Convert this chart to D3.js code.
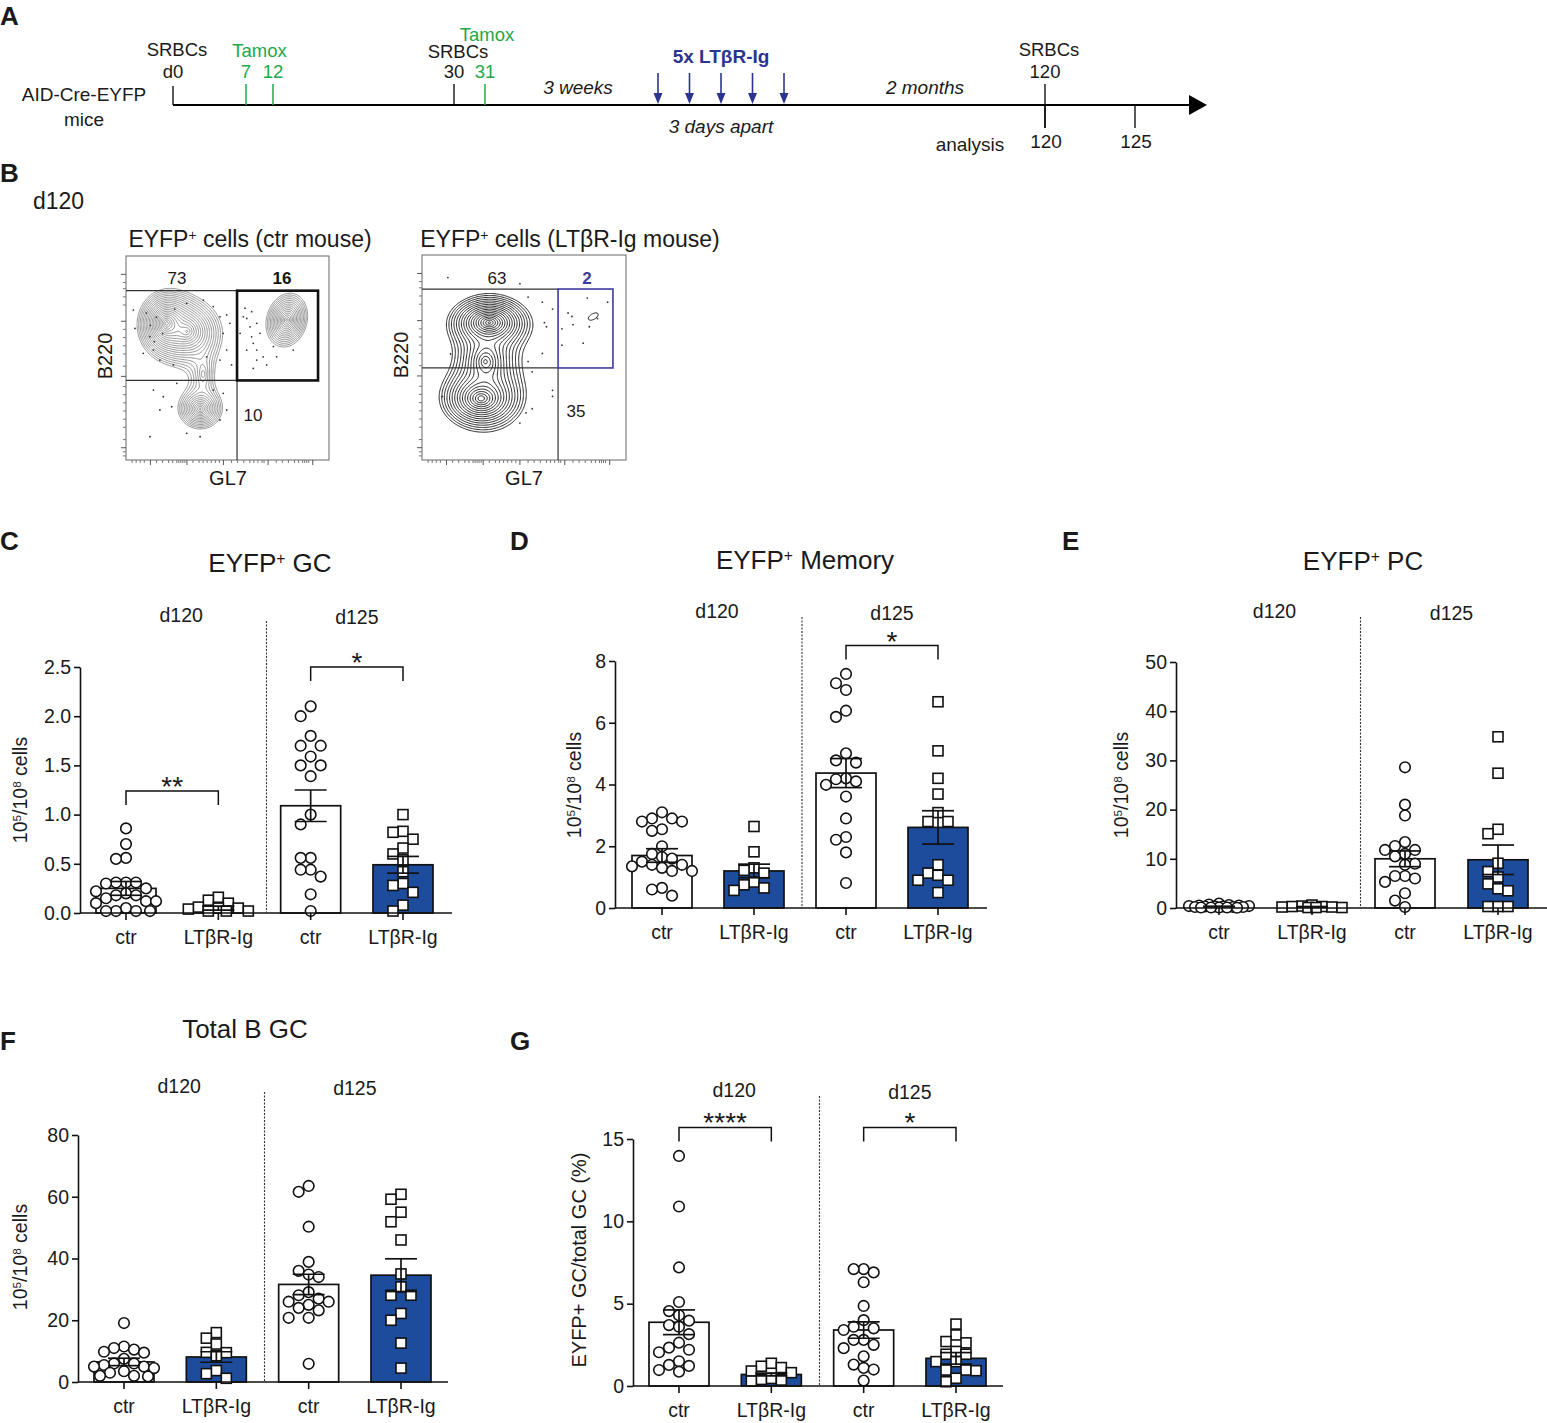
<!DOCTYPE html>
<html><head><meta charset="utf-8">
<script src="https://cdn.jsdelivr.net/npm/d3@7"></script>
<style>
body{margin:0;background:#fff}
svg{display:block}
text{font-family:"Liberation Sans",Arial,Helvetica,sans-serif;fill:#1a1a1a}
</style>
</head><body>
<svg id="fig" width="1547" height="1423"></svg>
<script>
// ---------------- DATA ----------------
const categories = ["ctr", "LTβR-Ig", "ctr", "LTβR-Ig"];
const groupLabels = ["d120", "d125"];

// Panel A timeline (days)
const srbcDays = [0, 30, 120];
const srbcDayLabels = ["d0", "30", "120"];
const tamoxDays = [7, 12, 31];
const ltbrDays = [52, 55, 58, 61, 64];
const analysisDays = [120, 125];

// Panel C: EYFP+ GC (10^5/10^8 cells)
const gcCtr120 = [0.86,0.70,0.56,0.55,0.31,0.31,0.31,0.30,0.25,0.22,0.20,0.18,0.18,0.15,0.12,0.12,0.10,0.05,0.02,0.02,0.02,0.02];
const gcLtb120 = [0.16,0.13,0.10,0.06,0.05,0.05,0.04,0.02,0.02,0.02];
const gcCtr125 = [2.10,2.00,1.80,1.70,1.70,1.59,1.50,1.50,1.39,1.00,0.90,0.56,0.56,0.44,0.44,0.37,0.19,0.02];
const gcLtb125 = [1.00,0.83,0.82,0.75,0.66,0.60,0.54,0.42,0.30,0.28,0.21,0.08,0.02];
const gcMean = [0.25, 0.05, 1.09, 0.49];
const gcSem  = [0.07, 0.02, 0.16, 0.085];

// Panel D: EYFP+ Memory
const memCtr120 = [3.1,2.9,2.9,2.8,2.8,2.55,2.5,2.0,1.75,1.65,1.6,1.5,1.4,1.4,1.35,1.3,1.2,1.2,0.65,0.6,0.4];
const memLtb120 = [2.64,1.82,1.30,1.22,1.13,0.84,0.75,0.65,0.57];
const memCtr125 = [7.58,7.28,7.06,6.39,6.19,5.01,4.78,4.71,4.2,4.17,4.1,3.99,3.61,2.9,2.3,2.21,1.8,0.81];
const memLtb125 = [6.68,5.09,4.2,3.69,3.09,2.8,2.8,1.40,1.13,1.06,0.9,0.9,0.5];
const memMean = [1.70, 1.20, 4.37, 2.61];
const memSem  = [0.22, 0.22, 0.47, 0.54];

// Panel E: EYFP+ PC
const pcCtr120 = [0.9,0.7,0.6,0.5,0.5,0.4,0.4,0.3,0.3,0.3,0.2,0.2,0.2,0.1,0.1,0.1,0.1,0.05];
const pcLtb120 = [0.6,0.4,0.3,0.3,0.2,0.2,0.1,0.1,0.1];
const pcCtr125 = [28.6,21.0,18.8,13.4,12.6,11.8,11.8,11.0,10.5,9.0,8.8,6.5,6.5,6.0,5.3,3.0,1.5,0.2];
const pcLtb125 = [34.8,27.4,16.0,15.1,9.1,7.4,6.3,4.9,3.9,3.5,0.3,0.3,0.3];
const pcMean = [0.3, 0.25, 10.0, 9.8];
const pcSem  = [0.06, 0.05, 1.6, 3.0];

// Panel F: Total B GC
const totCtr120 = [19.1,11.5,11.0,10.5,9.8,9.5,7.5,6.0,6.0,5.5,5.0,5.0,4.5,3.5,3.0,2.0,2.0,1.8];
const totLtb120 = [16.0,14.2,12.3,9.6,9.5,8.5,3.7,2.7,1.2];
const totCtr125 = [63.5,61.6,50.3,38.9,36.0,34.8,34.0,29.1,28.1,27.0,26.0,26.0,25.0,24.0,23.2,20.8,20.8,5.9];
const totLtb125 = [60.8,59.2,55.0,51.9,46.0,35.0,30.8,28.1,28.1,22.2,20.0,12.6,4.5];
const totMean = [6.5, 8.1, 31.6, 34.6];
const totSem  = [1.2, 1.7, 3.3, 5.3];

// Panel G: EYFP+ GC / total GC (%)
const pctCtr120 = [13.97,10.9,7.2,5.1,4.55,4.3,3.97,3.7,3.6,3.15,2.63,2.33,2.2,2.05,1.5,1.28,1.22,0.97,0.87];
const pctLtb120 = [1.38,1.2,1.12,0.91,0.81,0.46,0.4,0.36,0.3];
const pctCtr125 = [7.1,7.1,6.9,6.3,4.86,4.0,3.6,3.5,3.4,2.8,2.8,2.5,2.3,1.8,1.3,1.1,1.0,0.33];
const pctLtb125 = [3.76,3.1,2.7,2.62,2.1,1.93,1.93,1.48,1.48,0.97,0.97,0.93,0.47,0.26];
const pctMean = [3.87, 0.70, 3.4, 1.68];
const pctSem  = [0.75, 0.08, 0.5, 0.35];

// Significance (group pairs, label)
const gcSig  = [{a:0,b:1,v:1.24,label:"**"},{a:2,b:3,v:2.5,label:"*"}];
const memSig = [{a:2,b:3,v:8.5,label:"*"}];
const pctSig = [{a:0,b:1,v:15.7,label:"****"},{a:2,b:3,v:15.7,label:"*"}];

// Panel B flow: populations [cx, cy, sx, sy, weight, angle] in plot units (0-100)
const ctrPops = [
  [20, 67, 4.3, 5, 1.0, 0],
  [30, 63, 7, 6.5, 0.55, -10],
  [38, 42, 4, 8, 0.12, 0],
  [36.5, 25, 5, 4.5, 0.4, 0],
  [79.3, 68.6, 4.3, 5.8, 0.5, -15]
];
const ltbPops = [
  [33, 67, 5.5, 3.6, 1.0, 0],
  [29, 30, 6, 4.5, 0.75, 0],
  [31, 48, 5, 6, 0.3, 0],
  [33, 47, 9, 16, 0.08, 0],
  [84, 70, 14, 7, 0.036, 30]
];
const ctrDots = [[3.6,73.5],[4.4,64.5],[11.8,60.5],[13.5,53.9],[8.5,52.3],[16.7,49],[23.3,46.6],[29.9,76.8],[38.1,78.4],[43,75.2],[46.3,70.2],[49.6,71.1],[51.2,67],[47.9,62.1],[49.6,53.9],[52,46.6],[46.3,49],[39.7,50.6],[13.5,34.3],[18.4,31],[16.7,24.5],[22.5,26.1],[25,37.6],[43,34.3],[47.9,32.7],[49.6,24.5],[46.3,19.6],[36.5,11.4],[29.9,13.1],[11.8,11.4],[57.8,70.2],[59.5,69.4],[61.1,65.3],[61.9,60.4],[62.7,57.2],[64.4,53.9],[59.5,53.9],[56.2,62.1],[64.4,49],[67.6,50.6],[69.3,46.6],[62.7,44.9],[74.2,50.6],[82.4,53.9],[72.6,55.6],[66,62.1],[64.4,67],[58.6,74.4],[61.9,72.7],[15,70],[12,66],[18,62],[10,72],[24,74],[14,58]];
const ltbDots = [[81,79],[91,77],[71.6,71.7],[73.5,70],[74,66],[68.6,64],[82,65],[86,69],[68.6,56],[79,57],[12.7,89],[48,86],[52,79.5],[59,77],[64,73.6],[60,67],[61,65],[59,52],[14,51.7],[52,48],[54,43],[64,34],[64,31],[54,25],[51,23],[48,18],[10,31]];
const ctrPercents = ["73", "16", "10"];
const ltbPercents = ["63", "2", "35"];

// ---------------- DRAWING ----------------
const svg = d3.select("#fig");
const BLUE = "#1d4c9c";
const NAVY = "#2b3590";
const GREEN = "#22a84a";

function t(g, x, y, s, o = {}) {
  const el = g.append("text").attr("x", x).attr("y", y).text(s)
    .attr("font-size", o.size || 19)
    .attr("text-anchor", o.anchor || "middle");
  if (o.weight) el.attr("font-weight", o.weight);
  if (o.style) el.attr("font-style", o.style);
  if (o.fill) el.style("fill", o.fill);
  if (o.rotate) el.attr("transform", `rotate(${o.rotate},${x},${y})`);
  return el;
}
function rich(g, x, y, parts, o = {}) {
  const el = g.append("text").attr("x", x).attr("y", y)
    .attr("font-size", o.size || 19).attr("text-anchor", o.anchor || "middle");
  if (o.rotate) el.attr("transform", `rotate(${o.rotate},${x},${y})`);
  parts.forEach(p => {
    const ts = el.append("tspan").text(p[0]);
    if (p[1]) ts.attr("baseline-shift", "super").attr("font-size", (o.size || 19) * 0.6);
  });
  return el;
}

// Panel letters
[["A",0,25],["B",0,182],["C",0,550],["D",510,550],["E",1062,550],["F",0,1050],["G",510,1050]]
  .forEach(d => t(svg, d[1], d[2], d[0], {size: 26, weight: "bold", anchor: "start"}));

// ---------- Panel A ----------
(function () {
  const g = svg.append("g");
  const day = d3.scaleLinear().domain([0,7,12,30,31,52,64,120,125])
    .range([173,246,273,454,485,658,784,1045,1135]);
  const yL = 105;
  g.append("line").attr("x1", day(0)).attr("x2", 1192).attr("y1", yL).attr("y2", yL)
    .attr("stroke", "#000").attr("stroke-width", 2);
  g.append("path").attr("d", `M1189,95 L1207,${yL} L1189,115 Z`).attr("fill", "#000");
  t(g, 84, 101, "AID-Cre-EYFP");
  t(g, 84, 126, "mice");
  srbcDays.forEach((d, i) => {
    const x = day(d);
    const top = i === 0 ? 86 : 84;
    const bot = d === 120 ? 128 : yL;
    g.append("line").attr("x1", x).attr("x2", x).attr("y1", top).attr("y2", bot)
      .attr("stroke", "#000").attr("stroke-width", 1.3);
    t(g, x + 4, i === 1 ? 58 : 56, "SRBCs", {size: 18.5});
    t(g, x, 78, srbcDayLabels[i], {size: 18.5});
  });
  tamoxDays.forEach(d => {
    const x = day(d);
    g.append("line").attr("x1", x).attr("x2", x).attr("y1", 84).attr("y2", yL)
      .attr("stroke", GREEN).attr("stroke-width", 1.5);
    t(g, x, 78, String(d), {fill: GREEN, size: 18.5});
  });
  t(g, (day(7) + day(12)) / 2, 57, "Tamox", {fill: GREEN, size: 18.5});
  t(g, day(31) + 2, 41, "Tamox", {fill: GREEN, size: 18.5});
  t(g, 578, 94, "3 weeks", {style: "italic"});
  t(g, 925, 94, "2 months", {style: "italic"});
  const mid = (day(ltbrDays[0]) + day(ltbrDays[ltbrDays.length - 1])) / 2;
  t(g, mid, 63, "5x LTβR-Ig", {weight: "bold", fill: NAVY});
  t(g, mid, 133, "3 days apart", {style: "italic"});
  ltbrDays.forEach(d => {
    const x = day(d);
    g.append("line").attr("x1", x).attr("x2", x).attr("y1", 73).attr("y2", 96)
      .attr("stroke", NAVY).attr("stroke-width", 1.6);
    g.append("path").attr("d", `M${x-4.5},93 L${x},104 L${x+4.5},93 Z`).attr("fill", NAVY);
  });
  analysisDays.forEach(d => {
    const x = day(d);
    g.append("line").attr("x1", x).attr("x2", x).attr("y1", yL).attr("y2", 128)
      .attr("stroke", "#000").attr("stroke-width", 1.3);
    t(g, x + 1, 148, String(d));
  });
  t(g, 970, 151, "analysis");
})();

// ---------- Panel B ----------
t(svg, 33, 209, "d120", {size: 23, anchor: "start"});

function flowPlot(cfg) {
  const g = svg.append("g");
  const L = cfg.x, T = cfg.y, W = cfg.w, H = cfg.h;
  const sx = d3.scaleLinear().domain([0, 100]).range([L, L + W]);
  const sy = d3.scaleLinear().domain([0, 100]).range([T + H, T]);
  const nx = 180, ny = 180;
  const vals = new Float64Array(nx * ny);
  for (let j = 0; j < ny; j++) for (let i = 0; i < nx; i++) {
    const ux = (i + 0.5) / nx * 100, uy = 100 - (j + 0.5) / ny * 100;
    let s = 0;
    cfg.pops.forEach(p => {
      const a = p[5] * Math.PI / 180;
      const dx = ux - p[0], dy = uy - p[1];
      const rx = dx * Math.cos(a) + dy * Math.sin(a);
      const ry = -dx * Math.sin(a) + dy * Math.cos(a);
      s += p[4] * Math.exp(-Math.sqrt(rx * rx / (p[2] * p[2]) + ry * ry / (p[3] * p[3])));
    });
    vals[j * nx + i] = s;
  }
  const max = d3.max(vals);
  const hi = max * 0.9;
  const th = d3.range(cfg.levels).map(k => cfg.lo * Math.pow(hi / cfg.lo, k / (cfg.levels - 1)));
  const conts = d3.contours().size([nx, ny]).thresholds(th)(vals);
  const proj = d3.geoTransform({point(x, y) { this.stream.point(L + x * W / nx, T + y * H / ny); }});
  const path = d3.geoPath(proj);
  const clipId = "clip" + cfg.id;
  g.append("clipPath").attr("id", clipId).append("rect").attr("x", L).attr("y", T).attr("width", W).attr("height", H);
  const cg = g.append("g").attr("clip-path", `url(#${clipId})`);
  cg.selectAll("path").data(conts).join("path").attr("d", path)
    .attr("fill", "none").attr("stroke", cfg.color).attr("stroke-width", cfg.sw);
  cg.selectAll("circle").data(cfg.dots).join("circle")
    .attr("cx", d => sx(d[0])).attr("cy", d => sy(d[1])).attr("r", 0.9).attr("fill", "#333");
  g.append("rect").attr("x", L).attr("y", T).attr("width", W).attr("height", H)
    .attr("fill", "none").attr("stroke", "#666").attr("stroke-width", 1);
  const yt = [6, 41, 68, 91], xt = [12, 30, 48, 70, 92];
  yt.forEach(v => g.append("line").attr("x1", L - 5).attr("x2", L).attr("y1", sy(v)).attr("y2", sy(v)).attr("stroke", "#555"));
  [2,4,10,16,20,24,28,32,36,46,52,56,60,64,76,80,84,87].forEach(v => g.append("line").attr("x1", L - 3).attr("x2", L).attr("y1", sy(v)).attr("y2", sy(v)).attr("stroke", "#777"));
  xt.forEach(v => g.append("line").attr("y1", T + H).attr("y2", T + H + 5).attr("x1", sx(v)).attr("x2", sx(v)).attr("stroke", "#555"));
  [3,5,7,9,15,18,21,23,25,26,27,28,29,33,36,38,40,42,44,46,52,55,58,61,63,65,67,68,74,77,80,83,85,87,88,89,90].forEach(v =>
    g.append("line").attr("y1", T + H).attr("y2", T + H + 3).attr("x1", sx(v)).attr("x2", sx(v)).attr("stroke", "#777"));
  const gt = cfg.gates;
  const ln = (x1, y1, x2, y2) => g.append("line").attr("x1", sx(x1)).attr("y1", sy(y1)).attr("x2", sx(x2)).attr("y2", sy(y2))
    .attr("stroke", "#333").attr("stroke-width", 1.2);
  ln(0, gt.top, gt.vx, gt.top);
  ln(0, gt.mid, gt.vx, gt.mid);
  ln(gt.vx, 0, gt.vx, gt.vTop);
  g.append("rect").attr("x", sx(gt.vx)).attr("y", sy(gt.top)).attr("width", sx(gt.rx) - sx(gt.vx))
    .attr("height", sy(gt.mid) - sy(gt.top)).attr("fill", "none").attr("stroke", cfg.gateColor).attr("stroke-width", cfg.gateW);
  t(g, cfg.pct[0][0], cfg.pct[0][1], cfg.percents[0], {size: 17});
  t(g, cfg.pct[1][0], cfg.pct[1][1], cfg.percents[1], {size: 17, weight: "bold", fill: cfg.boldFill});
  t(g, cfg.pct[2][0], cfg.pct[2][1], cfg.percents[2], {size: 17});
  t(g, L - 14, T + 100, "B220", {size: 20, rotate: -90});
  t(g, L + 102, T + H + 25, "GL7", {size: 20});
  rich(g, cfg.titleX, 247, cfg.title, {size: 23});
}

flowPlot({id: "a", x: 126, y: 256, w: 203, h: 204, pops: ctrPops, dots: ctrDots, levels: 20, lo: 0.05,
  color: "#7a7a7a", sw: 0.8,
  gates: {top: 83, mid: 39, vx: 54.7, vTop: 83, rx: 94.6}, gateColor: "#111", gateW: 2.6,
  percents: ctrPercents, pct: [[177, 284], [282, 284], [253, 421]], boldFill: "#111",
  title: [["EYFP"], ["+", true], [" cells (ctr mouse)"]], titleX: 250});
flowPlot({id: "b", x: 422, y: 255, w: 204, h: 205, pops: ltbPops, dots: ltbDots, levels: 18, lo: 0.03,
  color: "#111", sw: 0.9,
  gates: {top: 83.4, mid: 44.9, vx: 66.7, vTop: 44.9, rx: 93.6}, gateColor: "#3b3ba0", gateW: 1.6,
  percents: ltbPercents, pct: [[497, 284], [587, 284], [576, 417]], boldFill: "#3b3ba0",
  title: [["EYFP"], ["+", true], [" cells (LTβR-Ig mouse)"]], titleX: 570});

// ---------- Bar charts ----------
function swarm(vals, y, step, minDist, maxOff) {
  const idx = vals.map((v, i) => i).sort((a, b) => vals[b] - vals[a]);
  const placed = [], off = new Array(vals.length);
  for (const i of idx) {
    const py = y(vals[i]);
    let found = null;
    for (let k = 0; k < 40; k++) {
      const o = (k % 2 ? -1 : 1) * Math.ceil(k / 2) * step;
      if (Math.abs(o) > maxOff) break;
      if (placed.every(p => Math.hypot(p[0] - o, p[1] - py) >= minDist)) { found = o; break; }
    }
    if (found === null) {
      let best = 0, bestD = -1;
      for (let o = -maxOff; o <= maxOff; o += 2) {
        const dmin = d3.min(placed, p => Math.hypot(p[0] - o, p[1] - py));
        if (dmin > bestD + 0.01) { bestD = dmin; best = o; }
      }
      found = best;
    }
    off[i] = found;
    placed.push([found, py]);
  }
  return off;
}

function barChart(cfg) {
  const g = svg.append("g");
  const y = d3.scaleLinear().domain([0, cfg.max]).range([cfg.y0, cfg.yTop]);
  const x = d3.scalePoint().domain(d3.range(categories.length)).range([cfg.c0, cfg.c1]);
  const bw = 60;
  g.selectAll("rect.bar").data(cfg.mean).join("rect").attr("class", "bar")
    .attr("x", (d, i) => x(i) - bw / 2).attr("width", bw)
    .attr("y", d => y(d)).attr("height", d => cfg.y0 - y(d))
    .attr("fill", (d, i) => i % 2 ? BLUE : "#fff").attr("stroke", "#111").attr("stroke-width", 1.7);
  cfg.points.forEach((vals, i) => {
    const off = swarm(vals, y, 10, 10, 30);
    const pg = g.append("g");
    if (i % 2 === 0) {
      pg.selectAll("circle").data(vals).join("circle")
        .attr("cx", (d, k) => x(i) + off[k]).attr("cy", d => y(d)).attr("r", 5.3)
        .attr("fill", "#fff").attr("stroke", "#111").attr("stroke-width", 1.6);
    } else {
      pg.selectAll("rect").data(vals).join("rect")
        .attr("x", (d, k) => x(i) + off[k] - 5).attr("y", d => y(d) - 5).attr("width", 10).attr("height", 10)
        .attr("fill", "#fff").attr("stroke", "#111").attr("stroke-width", 1.6);
    }
  });
  cfg.mean.forEach((m, i) => {
    const s = cfg.sem[i], cx = x(i), hw = 16;
    const eg = g.append("g").attr("stroke", "#111").attr("stroke-width", 1.7);
    eg.append("line").attr("x1", cx).attr("x2", cx).attr("y1", y(m - s)).attr("y2", y(m + s));
    eg.append("line").attr("x1", cx - hw).attr("x2", cx + hw).attr("y1", y(m + s)).attr("y2", y(m + s));
    eg.append("line").attr("x1", cx - hw).attr("x2", cx + hw).attr("y1", y(m - s)).attr("y2", y(m - s));
  });
  const ax = g.append("g").attr("transform", `translate(${cfg.ax},0)`)
    .call(d3.axisLeft(y).tickValues(cfg.ticks).tickFormat(cfg.fmt).tickSize(6).tickSizeOuter(0).tickPadding(3));
  ax.select(".domain").attr("stroke", "#111").attr("stroke-width", 1.6);
  ax.selectAll(".tick line").attr("stroke", "#111").attr("stroke-width", 1.6);
  ax.selectAll(".tick text").attr("font-size", 19.5).attr("font-family", null).style("fill", "#1a1a1a");
  g.append("line").attr("x1", cfg.ax).attr("x2", cfg.xEnd).attr("y1", cfg.y0).attr("y2", cfg.y0)
    .attr("stroke", "#111").attr("stroke-width", 1.6);
  categories.forEach((c, i) => {
    g.append("line").attr("x1", x(i)).attr("x2", x(i)).attr("y1", cfg.y0).attr("y2", cfg.y0 + 7)
      .attr("stroke", "#111").attr("stroke-width", 1.6);
    t(g, x(i), cfg.y0 + 31, c, {size: 19.5});
  });
  const dx = (x(1) + x(2)) / 2 + 2;
  g.append("line").attr("x1", dx).attr("x2", dx).attr("y1", cfg.divTop).attr("y2", cfg.y0)
    .attr("stroke", "#333").attr("stroke-width", 1.1).attr("stroke-dasharray", "2,1.5");
  t(g, (x(0) + x(1)) / 2 + 9, cfg.divTop + 1, groupLabels[0], {size: 19.5});
  t(g, (x(2) + x(3)) / 2, cfg.divTop + 3, groupLabels[1], {size: 19.5});
  (cfg.sig || []).forEach(s => {
    const yy = y(s.v);
    g.append("path").attr("d", `M${x(s.a)},${yy + 14}V${yy}H${x(s.b)}V${yy + 14}`)
      .attr("fill", "none").attr("stroke", "#111").attr("stroke-width", 1.5);
    t(g, (x(s.a) + x(s.b)) / 2, yy + 5, s.label, {size: 28});
  });
  if (cfg.title) rich(g, cfg.titleX, cfg.titleY, cfg.title, {size: 26});
  rich(g, cfg.ylx, cfg.yly, cfg.ylabel, {size: cfg.ylSize || 19.5, rotate: -90});
}

const cellsLabel = [["10"], ["5", true], ["/10"], ["8", true], [" cells"]];
const f1 = d3.format(".1f"), f0 = d3.format("d");

barChart({max: 2.5, y0: 913, yTop: 667, c0: 126, c1: 403, ax: 80, xEnd: 452, divTop: 621,
  ticks: [0, 0.5, 1, 1.5, 2, 2.5], fmt: f1, mean: gcMean, sem: gcSem,
  points: [gcCtr120, gcLtb120, gcCtr125, gcLtb125], sig: gcSig,
  title: [["EYFP"], ["+", true], [" GC"]], titleX: 270, titleY: 572, ylabel: cellsLabel, ylx: 27, yly: 790});
barChart({max: 8, y0: 908, yTop: 661, c0: 662, c1: 938, ax: 615, xEnd: 987, divTop: 617,
  ticks: [0, 2, 4, 6, 8], fmt: f0, mean: memMean, sem: memSem,
  points: [memCtr120, memLtb120, memCtr125, memLtb125], sig: memSig,
  title: [["EYFP"], ["+", true], [" Memory"]], titleX: 805, titleY: 569, ylabel: cellsLabel, ylx: 581, yly: 785});
barChart({max: 50, y0: 908, yTop: 662, c0: 1219, c1: 1498, ax: 1176, xEnd: 1547, divTop: 617,
  ticks: [0, 10, 20, 30, 40, 50], fmt: f0, mean: pcMean, sem: pcSem,
  points: [pcCtr120, pcLtb120, pcCtr125, pcLtb125],
  title: [["EYFP"], ["+", true], [" PC"]], titleX: 1363, titleY: 570, ylabel: cellsLabel, ylx: 1128, yly: 785});
barChart({max: 80, y0: 1382, yTop: 1135, c0: 124, c1: 401, ax: 78, xEnd: 448, divTop: 1092,
  ticks: [0, 20, 40, 60, 80], fmt: f0, mean: totMean, sem: totSem,
  points: [totCtr120, totLtb120, totCtr125, totLtb125],
  title: [["Total B GC"]], titleX: 245, titleY: 1038, ylabel: cellsLabel, ylx: 27, yly: 1257});
barChart({max: 15, y0: 1386, yTop: 1139, c0: 679, c1: 956, ax: 633, xEnd: 1003, divTop: 1096,
  ticks: [0, 5, 10, 15], fmt: f0, mean: pctMean, sem: pctSem,
  points: [pctCtr120, pctLtb120, pctCtr125, pctLtb125], sig: pctSig,
  ylabel: [["EYFP+ GC/total GC (%)"]], ylx: 586, yly: 1260, ylSize: 20});
</script>
</body></html>
